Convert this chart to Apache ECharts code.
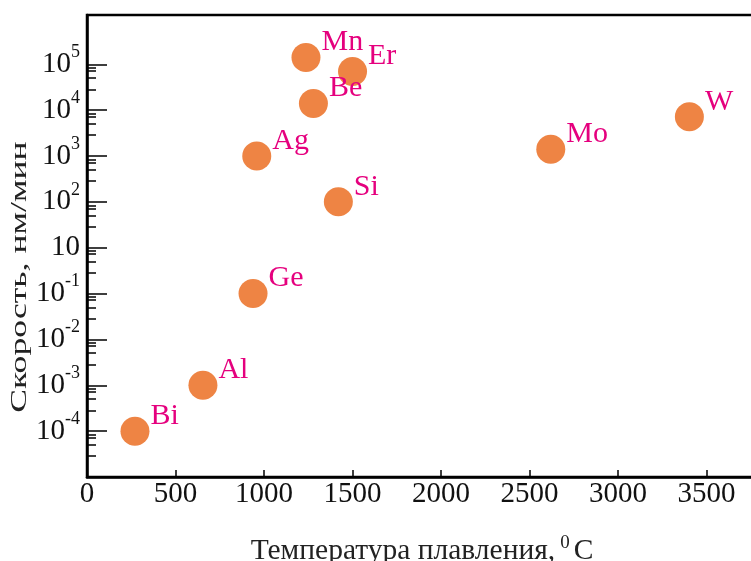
<!DOCTYPE html>
<html>
<head>
<meta charset="utf-8">
<script src="https://cdn.jsdelivr.net/npm/echarts@6/dist/echarts.min.js"></script>
<style>
html,body{margin:0;padding:0;background:#fff;}
#chart{width:751px;height:561px;}
</style>
</head>
<body>
<div id="chart"></div>
<script>
// ---- data ----
const elements = ['Bi', 'Al', 'Ge', 'Ag', 'Mn', 'Er', 'Be', 'Si', 'Mo', 'W'];
const meltingPoints = [271, 655, 938, 959, 1237, 1500, 1279, 1420, 2620, 3403];   // °C
const rates = [1e-4, 1e-3, 1e-1, 1e3, 1.4e5, 7e4, 1.4e4, 1e2, 1.4e3, 7.2e3];      // нм/мин

// tick labels of the (decade) rate axis as printed on the figure; 10^0 is not printed
const yTickLabels = ['10^-4', '10^-3', '10^-2', '10^-1', '10', '10^2', '10^3', '10^4', '10^5'];
const yTickExponents = [-4, -3, -2, -1, 1, 2, 3, 4, 5];
const xTickValues = [0, 500, 1000, 1500, 2000, 2500, 3000, 3500];
const minorOffsets = [0.075, 0.14, 0.3, 0.545];

const xTitle = 'Температура плавления,';
const yTitle = 'Скорость, нм/мин';

// map a rate onto the printed decade ticks (tick i sits at axis position i)
function toAxisPos(v) {
  const e = Math.log10(v);
  const t = yTickExponents;
  if (e <= t[0]) return e - t[0];
  for (let i = 0; i < t.length - 1; i++) {
    if (e >= t[i] && e <= t[i + 1]) return i + (e - t[i]) / (t[i + 1] - t[i]);
  }
  return (t.length - 1) + (e - t[t.length - 1]);
}

const majorPos = yTickLabels.map((_, i) => i);
const minorPos = [];
majorPos.forEach(k => minorOffsets.forEach(o => { if (k - o > -1) minorPos.push(k - o); }));

const Y_MIN = -1, Y_MAX = 9.075;
const FONT = '"Liberation Serif", "Times New Roman", serif';

const chart = echarts.init(document.getElementById('chart'), null, {renderer: 'canvas'});
const option = {
  animation: false,
  backgroundColor: '#fff',
  grid: {left: 87, right: -6, top: 15, bottom: 84, containLabel: false, outerBoundsMode: 'none',
    show: true, borderColor: '#000', borderWidth: 2.5, backgroundColor: 'transparent'},
  xAxis: {
    type: 'value', min: 0, max: 3785,
    axisLine: {show: true, onZero: false, lineStyle: {color: '#000', width: 2.5}},
    axisTick: {show: true, inside: true, length: 7, customValues: xTickValues, lineStyle: {color: '#000', width: 1.5}},
    axisLabel: {show: true, customValues: xTickValues, color: '#111', fontFamily: FONT, fontSize: 29, margin: 3,
      formatter: function (v) { return String(v); }},
    splitLine: {show: false},
    name: '{a|' + xTitle + '}{s|0}{a|С}',
    nameLocation: 'middle', nameGap: 57,
    nameTextStyle: {
      color: '#222', fontFamily: FONT, fontSize: 29,
      rich: {
        a: {fontFamily: FONT, fontSize: 29.5, lineHeight: 34, color: '#222'},
        s: {fontFamily: FONT, fontSize: 19, verticalAlign: 'top', color: '#222', padding: [0, 4, 0, 5]}
      }
    }
  },
  yAxis: [{
    type: 'value', min: Y_MIN, max: Y_MAX, position: 'left',
    axisLine: {show: true, lineStyle: {color: '#000', width: 2.5}},
    axisTick: {show: true, inside: true, length: 20, customValues: majorPos, lineStyle: {color: '#000', width: 1.5}},
    axisLabel: {
      show: true, customValues: majorPos, margin: 7,
      formatter: function (v) {
        const lab = yTickLabels[Math.round(v)];
        if (lab === undefined) return '';
        const parts = lab.split('^');
        return parts.length > 1 ? '{b|' + parts[0] + '}{s|' + parts[1] + '}' : '{b|' + parts[0] + '}{s|}';
      },
      rich: {
        b: {fontFamily: FONT, fontSize: 29, lineHeight: 42, color: '#111'},
        s: {fontFamily: FONT, fontSize: 18, verticalAlign: 'top', color: '#111'}
      }
    },
    splitLine: {show: false}
  }, {
    type: 'value', min: Y_MIN, max: Y_MAX, position: 'left', offset: 0,
    axisLine: {show: false},
    axisTick: {show: true, inside: true, length: 9, customValues: minorPos, lineStyle: {color: '#000', width: 1.5}},
    axisLabel: {show: false},
    splitLine: {show: false}
  }],
  graphic: [{
    type: 'text', x: 20, y: 277, rotation: Math.PI / 2, scaleX: 1.55,
    style: {
      text: yTitle, font: '23px ' + FONT, fill: '#222',
      textAlign: 'center', textVerticalAlign: 'middle', align: 'center', verticalAlign: 'middle'
    }
  }],
  series: [{
    type: 'scatter', xAxisIndex: 0, yAxisIndex: 0,
    symbol: 'circle', symbolSize: 29,
    itemStyle: {color: '#EE8444', opacity: 1},
    label: {
      show: true, position: 'right', distance: 0, offset: [1, -15],
      formatter: '{b}', color: '#E5007E', fontFamily: FONT, fontSize: 30
    },
    emphasis: {disabled: true},
    data: elements.map((n, i) => ({name: n, value: [meltingPoints[i], toAxisPos(rates[i])]}))
  }]
};
chart.setOption(option);
</script>
</body>
</html>
